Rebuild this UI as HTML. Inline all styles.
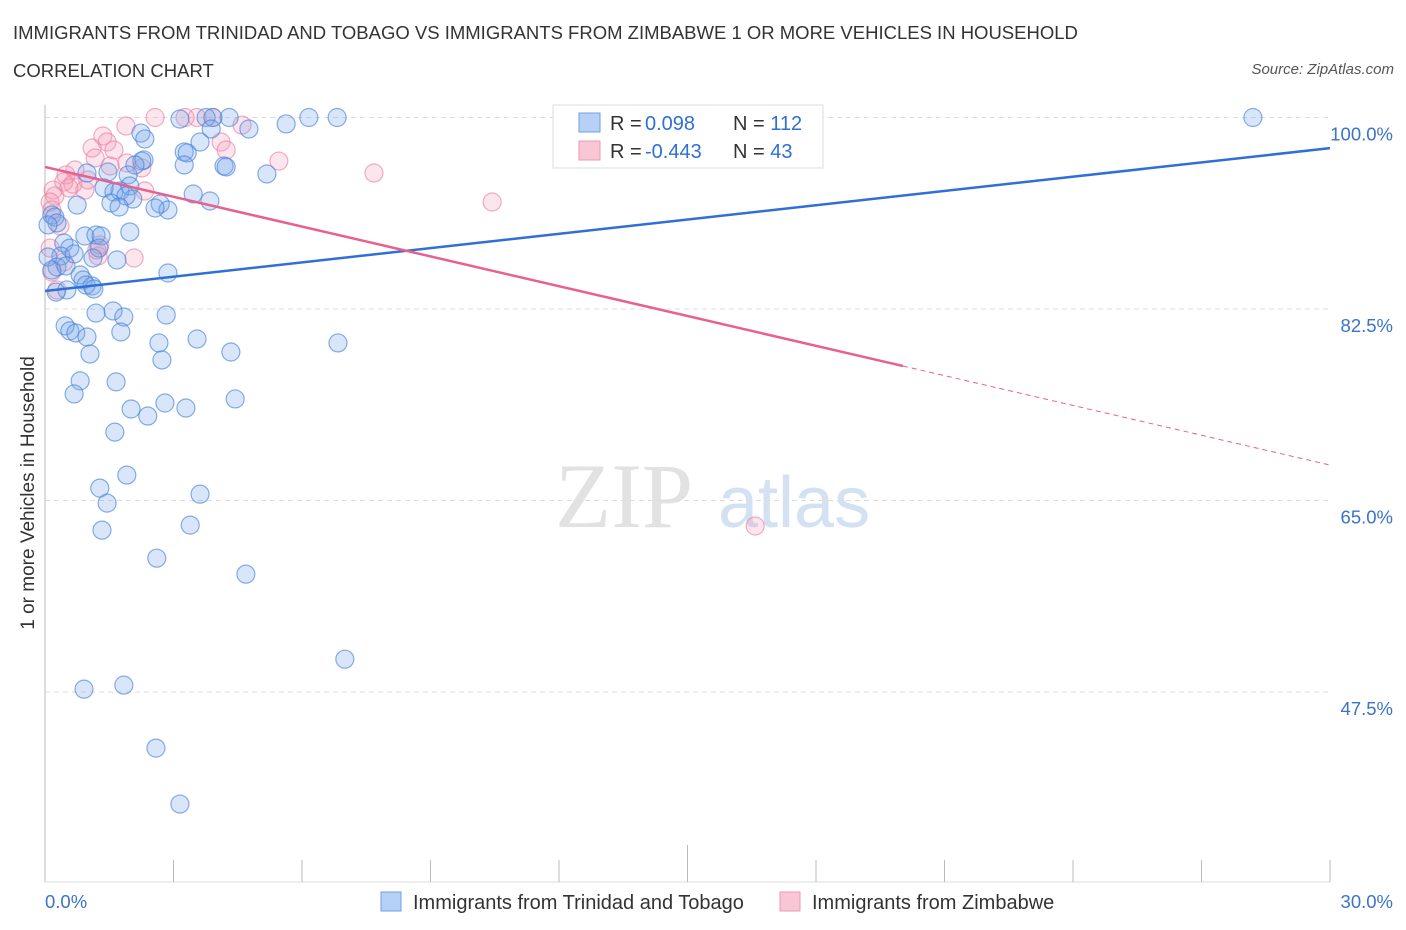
<!DOCTYPE html>
<html><head><meta charset="utf-8"><style>
body{margin:0;background:#fff;font-family:"Liberation Sans",sans-serif;}
#wrap{position:relative;width:1406px;height:930px;overflow:hidden}
.t{position:absolute;color:#333;font-size:18.5px}
</style></head><body>
<div id="wrap">
<div class="t" style="left:13px;top:22px">IMMIGRANTS FROM TRINIDAD AND TOBAGO VS IMMIGRANTS FROM ZIMBABWE 1 OR MORE VEHICLES IN HOUSEHOLD</div>
<div class="t" style="left:13px;top:60px">CORRELATION CHART</div>
<div class="t" style="right:12px;top:61px;font-size:15px;font-style:italic;color:#555">Source: ZipAtlas.com</div>
<svg id="svg" width="1406" height="930" style="position:absolute;left:0;top:0"></svg>
</div>
<script>
const blueX=[28.20,6.82,6.16,3.92,3.76,3.15,4.30,5.63,4.76,3.88,2.24,2.33,3.25,3.32,3.62,2.31,2.26,3.25,4.18,4.23,5.18,2.10,1.47,1.94,0.98,1.98,1.75,1.38,1.61,3.46,3.85,2.69,2.87,2.57,2.05,1.89,1.54,1.73,0.75,0.16,0.23,0.28,0.07,1.98,0.93,1.19,1.31,0.44,0.58,1.26,0.37,0.68,1.12,0.07,1.68,0.28,0.16,0.49,0.82,0.89,2.87,1.10,0.96,1.14,0.51,0.26,1.59,1.19,1.84,2.83,0.47,0.58,0.72,0.98,1.77,3.55,2.66,1.05,2.73,4.34,6.84,0.82,1.66,0.68,4.44,2.80,2.01,2.40,3.29,1.63,1.91,1.28,1.45,3.62,1.33,3.39,2.61,4.69,7.00,0.91,1.84,2.59,3.15];
const blueY=[100,100,100,100,100,99.86,100,99.41,98.95,98.95,98.58,98.04,96.85,96.76,97.76,96.12,96.02,95.66,95.57,95.48,94.84,95.66,95.02,94.75,94.93,93.74,93.28,93.56,93.19,93.01,92.37,92.10,91.55,91.73,92.55,92.83,92.19,91.82,92.00,91.09,90.91,90.36,90.18,89.54,89.17,89.26,89.17,88.53,88.07,88.07,87.34,87.53,87.16,87.25,86.98,86.34,86.06,86.43,85.61,85.15,85.79,84.60,84.69,84.33,84.24,84.05,82.32,82.13,81.77,81.95,80.96,80.50,80.31,79.94,80.40,79.76,79.40,78.39,77.84,78.57,79.40,75.93,75.84,74.74,74.28,73.91,73.36,72.72,73.45,71.25,67.32,66.13,64.76,65.58,62.29,62.75,59.73,58.27,50.50,47.76,48.13,42.37,37.26];
const pinkX=[2.57,3.27,3.55,3.92,4.60,1.89,1.35,1.45,1.10,1.17,1.61,1.91,4.11,4.23,5.46,7.68,10.44,2.26,1.52,0.70,0.49,0.44,0.65,0.19,0.23,0.93,2.33,0.12,0.16,0.35,0.12,0.44,1.24,1.21,2.08,0.16,0.28,16.58,1.28,0.56,1.00];
const pinkY=[100,100,100,100,99.31,99.22,98.31,97.76,97.21,96.30,97.03,95.84,97.76,97.03,96.02,94.93,92.28,95.39,95.57,95.20,94.75,94.11,93.92,93.37,92.83,93.37,93.28,92.28,91.55,90.09,88.07,86.79,87.34,87.89,87.16,85.88,84.24,62.67,88.35,93.56,94.29];
const blueTrend=[84.15,97.2];
const pinkTrend=[95.48,68.24];
const pinkSolidEnd=20.03;
const yTicks=[100,82.5,65,47.5];
const yTickLabels=["100.0%","82.5%","65.0%","47.5%"];

const NS="http://www.w3.org/2000/svg";
const svg=document.getElementById('svg');
const X=v=>45+v*42.833;
const Y=v=>117.5+(100-v)*10.943;
function mk(tag,a,p){const e=document.createElementNS(NS,tag);for(const k in a)e.setAttribute(k,a[k]);(p||svg).appendChild(e);return e;}

let w=mk('text',{x:555,y:527,'font-family':'Liberation Serif,serif','font-size':92,fill:'#e2e2e2'});w.textContent='ZIP';


let w2=mk('text',{x:718,y:527,'font-family':'Liberation Sans,sans-serif','font-size':72,fill:'#d3e1f3'});w2.textContent='atlas';



yTicks.forEach((t,i)=>{
 const g=mk('line',{x1:45,x2:1330,y1:Y(t),y2:Y(t),stroke:'#ddd','stroke-dasharray':'5,4'});
 
 
 const l=mk('text',{x:1393,y:Y(t)+23,'text-anchor':'end','font-size':18.5,fill:'#3b73c8','font-family':'Liberation Sans,sans-serif'});
 l.textContent=yTickLabels[i];
 
 
});
let ax=mk('line',{x1:45,x2:45,y1:105,y2:882,stroke:'#bbb'});


let bx=mk('line',{x1:45,x2:1330,y1:882,y2:882,stroke:'#ddd'});


for(let i=0;i<=10;i++){
 const tk=mk('line',{x1:X(i*3),x2:X(i*3),y1:i==5?845:860,y2:882,stroke:'#bbb'});
 
 
}
[['0.0%',45,'start'],['30.0%',1393,'end']].forEach(d=>{
 const t=mk('text',{x:d[1],y:908,'text-anchor':d[2],'font-size':18.5,fill:'#3b73c8','font-family':'Liberation Sans,sans-serif'});t.textContent=d[0];
 
 
});
let yt=mk('text',{transform:'translate(34,493) rotate(-90)','text-anchor':'middle','font-size':19,fill:'#333','font-family':'Liberation Sans,sans-serif'});
yt.textContent='1 or more Vehicles in Household';



pinkX.forEach((x,i)=>{
 const c=mk('circle',{cx:X(x),cy:Y(pinkY[i]),r:9,fill:'rgba(244,150,180,0.25)',stroke:'rgba(235,130,165,0.65)','stroke-width':1.2});
 
 
});
blueX.forEach((x,i)=>{
 const c=mk('circle',{cx:X(x),cy:Y(blueY[i]),r:9,fill:'rgba(120,165,235,0.28)',stroke:'rgba(70,130,220,0.65)','stroke-width':1.2});
 
 
});
const pAt=x=>pinkTrend[0]+(pinkTrend[1]-pinkTrend[0])*x/30;
let bl=mk('line',{x1:X(0),y1:Y(blueTrend[0]),x2:X(30),y2:Y(blueTrend[1]),stroke:'#2f6fd6','stroke-width':2.5});


let pl=mk('line',{x1:X(0),y1:Y(pinkTrend[0]),x2:X(pinkSolidEnd),y2:Y(pAt(pinkSolidEnd)),stroke:'#e8608f','stroke-width':2.5});


let pd=mk('line',{x1:X(pinkSolidEnd),y1:Y(pAt(pinkSolidEnd)),x2:X(30),y2:Y(pinkTrend[1]),stroke:'#e8608f','stroke-width':1,'stroke-dasharray':'5,4'});



let lb=mk('rect',{x:553,y:105,width:270,height:63,fill:'#fff',stroke:'#ddd'});


[['#b7d0f5','#6f9fe6','0.098','112',123],['#f9c6d6','#ee98b4','-0.443','43',151]].forEach(r=>{
 const s=mk('rect',{x:579,y:r[4]-10,width:21,height:19,fill:r[0],stroke:r[1]});
 
 
 const t=mk('text',{x:610,y:r[4]+7,'font-size':20,fill:'#333','font-family':'Liberation Sans,sans-serif'});
 t.innerHTML='R = <tspan fill="#2f6fd6" x="645">'+r[2]+'</tspan><tspan x="733">N = </tspan><tspan fill="#2f6fd6">'+r[3]+'</tspan>';
 
 
});
[['#b7d0f5','#6f9fe6',381,413,'Immigrants from Trinidad and Tobago'],['#f9c6d6','#ee98b4',780,812,'Immigrants from Zimbabwe']].forEach(r=>{
 const s=mk('rect',{x:r[2],y:892,width:20,height:19,fill:r[0],stroke:r[1]});
 
 
 const t=mk('text',{x:r[3],y:909,'font-size':20,fill:'#333','font-family':'Liberation Sans,sans-serif'});
 t.textContent=r[4];
 
 
});
</script>
</body></html>
